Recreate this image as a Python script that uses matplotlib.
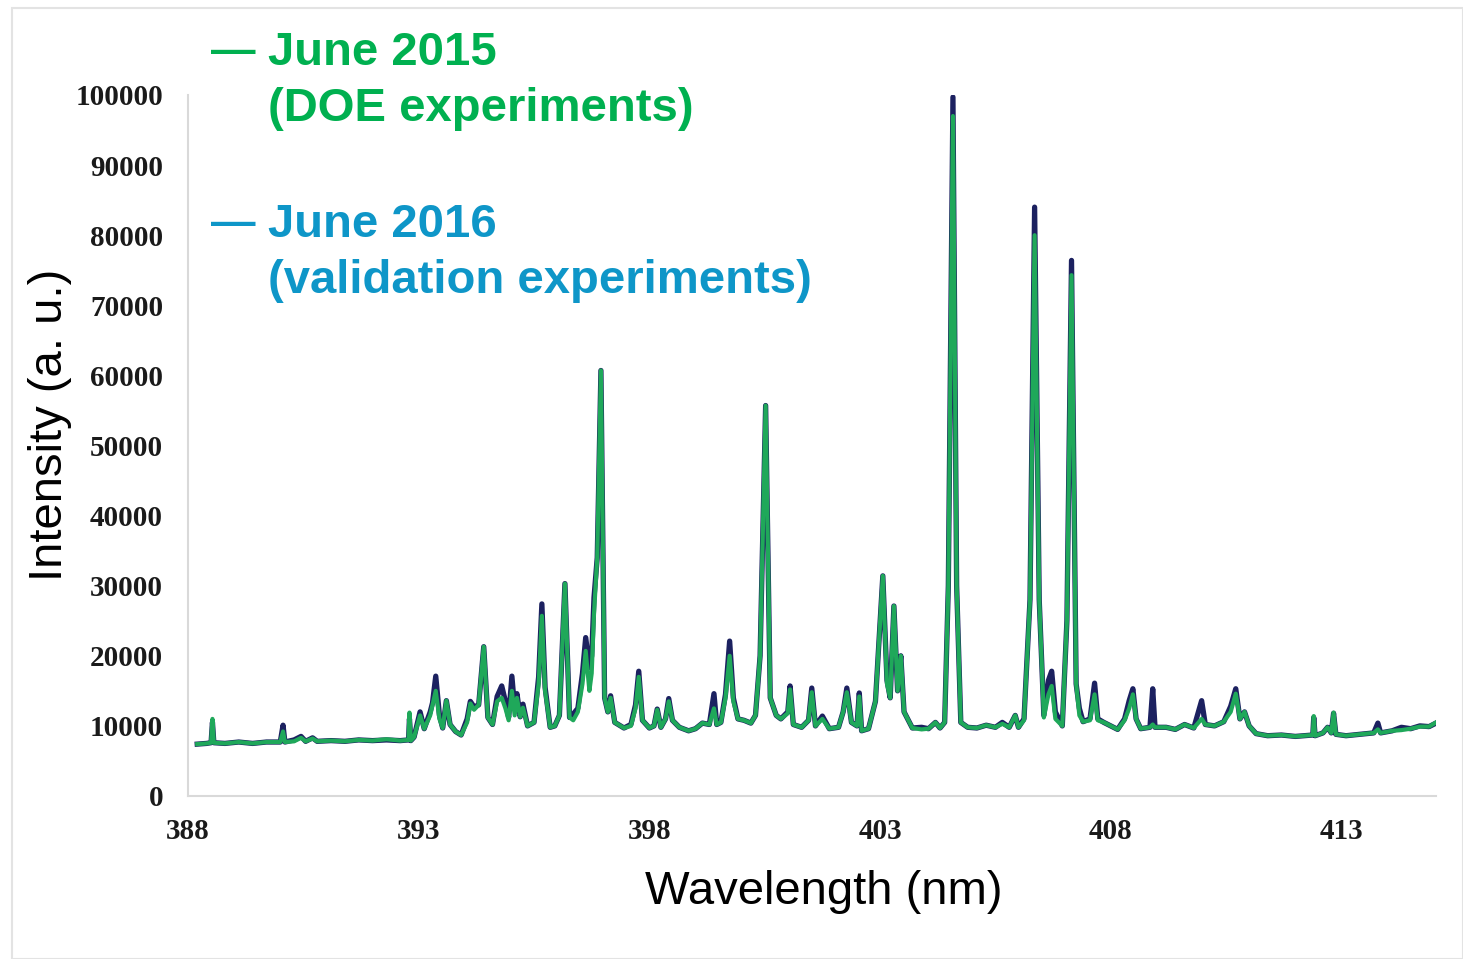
import matplotlib.pyplot as plt
from matplotlib.patches import Rectangle

# wavelength (nm) and intensity (a.u.)
wavelength = [
    388.20, 388.40, 388.50, 388.53, 388.56, 388.80, 389.10, 389.40, 389.70, 390.00,
    390.06, 390.10, 390.30, 390.45, 390.55, 390.70, 390.80, 391.10, 391.40, 391.70,
    392.00, 392.30, 392.60, 392.78, 392.80, 392.83, 392.90, 393.03, 393.12, 393.25,
    393.30, 393.37, 393.45, 393.52, 393.60, 393.68, 393.80, 393.92, 394.05, 394.12,
    394.20, 394.30, 394.41, 394.50, 394.60, 394.70, 394.80, 394.88, 394.95, 395.02,
    395.08, 395.13, 395.20, 395.26, 395.36, 395.50, 395.60, 395.67, 395.74, 395.85,
    395.95, 396.05, 396.17, 396.27, 396.35, 396.45, 396.55, 396.62, 396.70, 396.75,
    396.80, 396.87, 396.95, 397.03, 397.10, 397.16, 397.25, 397.45, 397.60, 397.70,
    397.77, 397.85, 398.00, 398.10, 398.17, 398.25, 398.35, 398.42, 398.50, 398.65,
    398.85, 399.00, 399.15, 399.30, 399.40, 399.46, 399.55, 399.65, 399.74, 399.82,
    399.92, 400.05, 400.20, 400.30, 400.40, 400.52, 400.62, 400.75, 400.85, 401.00,
    401.05, 401.12, 401.30, 401.45, 401.52, 401.60, 401.75, 401.90, 402.10, 402.20,
    402.28, 402.38, 402.50, 402.55, 402.60, 402.75, 402.90, 403.06, 403.15, 403.22,
    403.30, 403.38, 403.45, 403.52, 403.70, 403.90, 404.05, 404.20, 404.30, 404.40,
    404.48, 404.58, 404.66, 404.75, 404.90, 405.10, 405.30, 405.50, 405.65, 405.80,
    405.93, 406.00, 406.12, 406.25, 406.35, 406.45, 406.55, 406.65, 406.72, 406.80,
    406.95, 407.05, 407.15, 407.25, 407.32, 407.40, 407.55, 407.65, 407.72, 407.85,
    408.00, 408.15, 408.30, 408.40, 408.48, 408.55, 408.65, 408.85, 408.91, 408.96,
    409.20, 409.40, 409.60, 409.80, 409.97, 410.05, 410.25, 410.45, 410.60, 410.71,
    410.80, 410.90, 411.00, 411.15, 411.40, 411.70, 412.00, 412.20, 412.38, 412.40,
    412.43, 412.60, 412.70, 412.78, 412.83, 412.88, 413.10, 413.40, 413.70, 413.79,
    413.85, 414.10, 414.30, 414.50, 414.70, 414.90, 415.05,
]

june_2015 = [
    7400, 7500, 7600, 11000, 7600, 7500, 7700, 7500, 7700, 7700,
    9200, 7700, 7800, 8300, 7800, 8200, 7800, 7900, 7800, 8000,
    7900, 8100, 7900, 8000, 11900, 7900, 8400, 11500, 9600, 11500,
    13000, 15000, 11000, 9700, 13600, 10200, 9200, 8700, 10500, 13200,
    12300, 13000, 21300, 11200, 10200, 13500, 14000, 12500, 10800, 15000,
    11500, 14000, 11300, 12600, 10000, 10500, 16000, 25700, 15000, 9800,
    10000, 11500, 30300, 11200, 10800, 12000, 16000, 20700, 15000, 17500,
    26000, 34000, 60700, 14000, 12000, 14000, 10500, 9700, 10000, 12500,
    17000, 10800, 9700, 10000, 12300, 9800, 11000, 13500, 10800, 9800,
    9300, 9600, 10400, 10200, 12500, 10200, 10500, 14000, 20000, 13500,
    11000, 10800, 10400, 11500, 20000, 55700, 14000, 11500, 11000, 11800,
    15200, 10200, 9800, 10800, 14800, 10000, 11000, 9600, 9800, 12000,
    14800, 10500, 10000, 14200, 9300, 9600, 13500, 31400, 16000, 14000,
    27100, 15000, 20000, 12000, 9700, 9500, 9600, 10500, 9700, 10500,
    30000, 97000, 30000, 10500, 9800, 9700, 10100, 9800, 10300, 9800,
    11500, 9800, 10800, 28000, 80000, 28000, 11200, 14500, 15700, 11000,
    10000, 25000, 74300, 16000, 11500, 10600, 10800, 14500, 10800, 10500,
    10000, 9500, 10800, 12500, 14500, 11000, 9600, 9800, 10200, 9800,
    9800, 9500, 10200, 9700, 11000, 10200, 10000, 10600, 12000, 14600,
    11000, 12000, 10000, 8900, 8600, 8700, 8500, 8600, 8700, 11400,
    8600, 9000, 9800, 9000, 11900, 8800, 8600, 8800, 9000, 9500,
    9000, 9300, 9400, 9600, 9900, 9900, 10500,
]

june_2016 = [
    7400, 7500, 7600, 10500, 7600, 7500, 7700, 7500, 7700, 7700,
    10100, 7700, 8000, 8500, 7800, 8300, 7800, 7900, 7800, 8000,
    7900, 8000, 7900, 8000, 11000, 7900, 8400, 12000, 9600, 12000,
    13300, 17100, 11500, 9700, 13600, 10200, 9200, 8700, 11000, 13500,
    12700, 13000, 21300, 11200, 10200, 14200, 15700, 13500, 11200, 17100,
    12500, 14600, 11300, 13100, 10000, 10500, 17000, 27400, 15500, 9800,
    10000, 11500, 30300, 11200, 11700, 12500, 17500, 22600, 18300, 20000,
    28300, 34000, 60700, 14000, 12000, 14300, 10500, 9700, 10200, 13000,
    17800, 10800, 9700, 10000, 12400, 9800, 11000, 13900, 10800, 9800,
    9300, 9600, 10400, 10200, 14600, 10200, 10500, 14500, 22100, 14000,
    11000, 10800, 10400, 11500, 20000, 55700, 14000, 11500, 11000, 12000,
    15700, 10200, 9800, 10800, 15400, 10000, 11400, 9600, 9800, 12000,
    15400, 10500, 10000, 14700, 9300, 9600, 13500, 31400, 16500, 14000,
    27100, 15000, 20000, 12000, 9700, 9800, 9600, 10500, 9700, 10500,
    30000, 99700, 30000, 10500, 9800, 9700, 10100, 9800, 10500, 9800,
    11500, 9800, 11000, 28000, 84000, 28000, 11500, 16500, 17800, 12000,
    10000, 25000, 76400, 16000, 12500, 10600, 11000, 16100, 11000, 10500,
    10000, 9500, 11000, 13600, 15300, 11000, 9600, 9800, 15300, 9800,
    9800, 9500, 10200, 9700, 13600, 10200, 10000, 10600, 12800, 15300,
    11000, 12000, 10000, 8900, 8600, 8700, 8500, 8600, 8700, 11200,
    8600, 9000, 9800, 9000, 11800, 8800, 8600, 8800, 9000, 10400,
    9000, 9300, 9800, 9600, 10000, 9900, 10400,
]

yticks = list(range(0, 100001, 10000))
xticks = [388, 393, 398, 403, 408, 413]

W, H = 1463, 959
fig = plt.figure(figsize=(W / 100, H / 100), dpi=100)
fig.patches.append(Rectangle((12 / W, 0), 1 - 12 / W, 1 - 8 / H, transform=fig.transFigure,
                             fill=False, edgecolor="#e3e3e3", linewidth=1.5))

ax = fig.add_axes([188 / W, 1 - 796 / H, (1436 - 188) / W, (796 - 95) / H])
ax.plot(wavelength, june_2016, color="#1c2160", linewidth=3.8, solid_joinstyle="round")
ax.plot(wavelength, june_2015, color="#1fa85a", linewidth=3.0, solid_joinstyle="round")

ax.set_xlim(388, 415.05)
ax.set_ylim(0, 100000)
ax.set_xticks(xticks)
ax.set_yticks(yticks)
ax.tick_params(length=0)
ax.tick_params(axis="y", pad=18)
ax.tick_params(axis="x", pad=16)
for lab in ax.get_xticklabels() + ax.get_yticklabels():
    lab.set_fontfamily("Liberation Serif")
    lab.set_fontweight("bold")
    lab.set_fontsize(21)
    lab.set_color("#1a1a1a")
for s in ["top", "right"]:
    ax.spines[s].set_visible(False)
for s in ["left", "bottom"]:
    ax.spines[s].set_color("#d9d9d9")
    ax.spines[s].set_linewidth(1.5)

fig.text(824 / W, 1 - 892 / H, "Wavelength (nm)", fontsize=34, family="Liberation Sans",
         ha="center", va="center")
fig.text(50 / W, 1 - 425 / H, "Intensity (a. u.)", fontsize=34, family="Liberation Sans",
         ha="center", va="center", rotation=90)

green = "#00b050"
blue = "#0e96c8"
legend_lines = [
    (53, "— ", "June 2015", green),
    (109, "", "(DOE experiments)", green),
    (225, "— ", "June 2016", blue),
    (281, "", "(validation experiments)", blue),
]
for y, dash, txt, col in legend_lines:
    if dash:
        fig.text(211 / W, 1 - y / H, "—", fontsize=32, family="Liberation Sans",
                 fontweight="bold", color=col, ha="left", va="center")
    fig.text(268 / W, 1 - y / H, txt, fontsize=34, family="Liberation Sans",
             fontweight="bold", color=col, ha="left", va="center")

fig.savefig("out.png", dpi=100)
